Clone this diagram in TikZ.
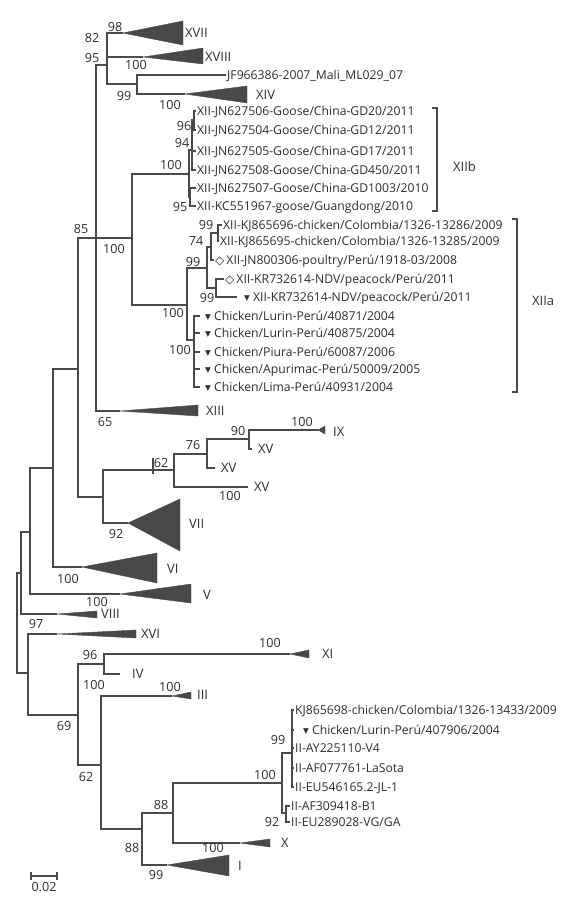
\documentclass[tikz,border=0pt]{standalone}
\usepackage{fontspec}
\setmainfont{Open Sans}
\newfontfamily\symfont{DejaVu Sans}
\usepackage{tikz}
\usetikzlibrary{positioning}
\definecolor{treegray}{HTML}{4A4A4A}
\definecolor{txtgray}{HTML}{2E2E2E}
\definecolor{cladegray}{HTML}{484848}
\newcommand{\tri}{\raisebox{0.6bp}{\fontsize{7.5bp}{7.5bp}\symfont ▼}}
\newcommand{\dia}{\raisebox{-0.5bp}{\fontsize{12bp}{12bp}\symfont ◇}}

\begin{document}
\begin{tikzpicture}[x=1bp, y=-1bp,
    branch/.style={draw=treegray, line width=1.2bp},
    leaf/.style={anchor=west, inner xsep=1bp, inner ysep=0pt, text=txtgray,
        font=\fontsize{12.2bp}{14bp}\selectfont, text height=8.7bp, text depth=0pt},
    romtip/.style={leaf, inner xsep=6bp, font=\fontsize{13bp}{15bp}\selectfont,
        text height=9.3bp},
    boot/.style={inner sep=0pt, text=txtgray, font=\fontsize{12.6bp}{14bp}\selectfont,
        text height=9bp, text depth=0pt},
    clade/.style={fill=cladegray, draw=cladegray, line width=0.4bp, line join=miter},
    cladelab/.style={anchor=west, inner sep=0pt, text=txtgray,
        font=\fontsize{13bp}{15bp}\selectfont, text height=9.3bp, text depth=0pt}]

    \useasboundingbox (0,0) rectangle (580,904);

    % ====== Internal nodes ======
    \coordinate (n17)    at (17,623);
    \coordinate (n21)    at (21,573);
    \coordinate (n30)    at (30,532);
    \coordinate (n53)    at (53,468);
    \coordinate (n78)    at (78,369);
    \coordinate (n85)    at (96,238);
    \coordinate (n95)    at (107,65);
    \coordinate (n99)    at (137,84);
    \coordinate (n100xii) at (132,238);
    \coordinate (n100b)  at (189,174);
    \coordinate (n94)    at (192,150);
    \coordinate (n96)    at (194,120);
    \coordinate (n95b)   at (190,197);
    \coordinate (n100a)  at (187,305);
    \coordinate (n99b)   at (207,268);
    \coordinate (n74)    at (211,247);
    \coordinate (n99c)   at (218,233);
    \coordinate (n99d)   at (216,288);
    \coordinate (n100c)  at (194,340);
    \coordinate (n103)   at (103,497);
    \coordinate (n62)    at (153,470);
    \coordinate (n174)   at (174,470);
    \coordinate (n76)    at (207,454);
    \coordinate (n90)    at (249,439);
    \coordinate (n28)    at (28,673);
    \coordinate (n78b)   at (78,715);
    \coordinate (n96b)   at (104,664);
    \coordinate (n62b)   at (101,765);
    \coordinate (n88a)   at (142,829);
    \coordinate (n88b)   at (173,813);
    \coordinate (n100ii) at (282,783);
    \coordinate (n99ii)  at (292,753);
    \coordinate (n92ii)  at (286,813);

    % ====== Collapsed clades ======
    \coordinate (cXVII)  at (123,33);
    \coordinate (cXVIII) at (143,57);
    \coordinate (cXIV)   at (185,94);
    \coordinate (cXIII)  at (120,411);
    \coordinate (cIX)    at (318,430);
    \coordinate (cVII)   at (128,523);
    \coordinate (cVI)    at (82,567);
    \coordinate (cV)     at (120,594);
    \coordinate (cVIII)  at (57,614);
    \coordinate (cXVI)   at (57,634);
    \coordinate (cXI)    at (290,654);
    \coordinate (cIII)   at (172,696);
    \coordinate (cX)     at (240,843);
    \coordinate (cI)     at (167,865);

    \foreach \c/\dx/\up/\dn in {cXVII/60/12/12, cXVIII/60/9/7, cXIV/62/8/9,
        cXIII/78/6/5, cIX/7/4/4, cVII/52/24/28, cVI/75/14/16, cV/71/10/9,
        cVIII/40/3/4, cXVI/79/4/4, cXI/19/4/4, cIII/19/4/3, cX/30/4/4, cI/62/10/11}
        \fill[clade] (\c) -- ++(\dx,-\up) -- ++(0,\up+\dn) -- cycle;

    \node[cladelab] (lXVII)  at (185,33)  {XVII};
    \node[cladelab] (lXVIII) at (205,57)  {XVIII};
    \node[cladelab] (lXIV)   at (256,95)  {XIV};
    \node[cladelab] (lXIII)  at (206,411) {XIII};
    \node[cladelab] (lIX)    at (333,432) {IX};
    \node[cladelab] (lVII)   at (189,524) {VII};
    \node[cladelab] (lVI)    at (167,569) {VI};
    \node[cladelab] (lV)     at (203,595) {V};
    \node[cladelab] (lVIII)  at (101,614) {VIII};
    \node[cladelab] (lXVI)   at (141,634) {XVI};
    \node[cladelab] (lXI)    at (322,654) {XI};
    \node[cladelab] (lIII)   at (197,695) {III};
    \node[cladelab] (lX)     at (281,843) {X};
    \node[cladelab] (lI)     at (238,866) {I};

    % ====== Leaves ======
    \node[leaf] (jf) at (226,75) {JF966386-2007\_Mali\_ML029\_07};

    \node[leaf] (jn506) at (196,111) {XII-JN627506-Goose/China-GD20/2011};
    \node[leaf] (jn504) at (196,130) {XII-JN627504-Goose/China-GD12/2011};
    \node[leaf] (jn505) at (196,151) {XII-JN627505-Goose/China-GD17/2011};
    \node[leaf] (jn508) at (196,170) {XII-JN627508-Goose/China-GD450/2011};
    \node[leaf] (jn507) at (196,188) {XII-JN627507-Goose/China-GD1003/2010};
    \node[leaf] (kc967) at (196,206) {XII-KC551967-goose/Guangdong/2010};

    \node[leaf] (kj696)  at (222,225) {XII-KJ865696-chicken/Colombia/1326-13286/2009};
    \node[leaf] (kj695)  at (219,241) {XII-KJ865695-chicken/Colombia/1326-13285/2009};
    \node[leaf] (jn800)  at (214,260) {\dia\,XII-JN800306-poultry/Perú/1918-03/2008};
    \node[leaf] (kr614a) at (224,279) {\dia\,XII-KR732614-NDV/peacock/Perú/2011};
    \node[leaf] (kr614b) at (237,297) {\hspace{6bp}\tri\ XII-KR732614-NDV/peacock/Perú/2011};
    \node[leaf] (c1) at (200,316) {\hspace{4bp}\tri\ Chicken/Lurin-Perú/40871/2004};
    \node[leaf] (c2) at (200,333) {\hspace{4bp}\tri\ Chicken/Lurin-Perú/40875/2004};
    \node[leaf] (c3) at (200,352) {\hspace{4bp}\tri\ Chicken/Piura-Perú/60087/2006};
    \node[leaf] (c4) at (200,369) {\hspace{4bp}\tri\ Chicken/Apurimac-Perú/50009/2005};
    \node[leaf] (c5) at (200,387) {\hspace{4bp}\tri\ Chicken/Lima-Perú/40931/2004};

    \node[romtip] (xv1) at (252,449) {XV};
    \node[romtip] (xv2) at (215,468) {XV};
    \node[romtip] (xv3) at (248,487) {XV};
    \node[romtip] (iv)  at (120,674) {\hspace{6bp}IV};

    \node[leaf] (kj698)  at (294,710) {KJ865698-chicken/Colombia/1326-13433/2009};
    \node[leaf] (lurin2) at (294,730) {\hspace{8bp}\tri\ Chicken/Lurin-Perú/407906/2004};
    \node[leaf] (ay)     at (294,748) {II-AY225110-V4};
    \node[leaf] (af077)  at (294,768) {II-AF077761-LaSota};
    \node[leaf] (eu546)  at (294,787) {II-EU546165.2-JL-1};
    \node[leaf] (af309)  at (290,806) {II-AF309418-B1};
    \node[leaf] (eu289)  at (290,822) {II-EU289028-VG/GA};

    % ====== Branches ======
    \foreach \a/\b in {n17/n21, n17/n28, n21/n30, n21/cVIII, n30/n53, n30/cV,
        n53/n78, n53/cVI, n78/n85, n78/n103, n85/n95, n85/n100xii, n85/cXIII,
        n95/cXVII, n95/cXVIII, n95/n99, n99/jf, n99/cXIV,
        n100xii/n100b, n100xii/n100a, n100b/n94, n100b/n95b,
        n94/n96, n94/jn505, n94/jn508, n96/jn506, n96/jn504, n95b/jn507, n95b/kc967,
        n100a/n99b, n100a/n100c, n99b/n74, n99b/n99d, n74/n99c, n74/jn800,
        n99c/kj696, n99c/kj695, n99d/kr614a, n99d/kr614b,
        n100c/c1, n100c/c2, n100c/c3, n100c/c4, n100c/c5,
        n103/n62, n103/cVII, n62/n174, n174/n76, n174/xv3, n76/n90, n76/xv2,
        n90/cIX, n90/xv1,
        n28/cXVI, n28/n78b, n78b/n96b, n78b/n62b, n96b/cXI, n96b/iv,
        n62b/cIII, n62b/n88a, n88a/n88b, n88a/cI, n88b/n100ii, n88b/cX,
        n100ii/n99ii, n100ii/n92ii, n99ii/kj698, n99ii/lurin2, n99ii/ay,
        n99ii/af077, n99ii/eu546, n92ii/af309, n92ii/eu289}
        \path[branch] (\a) |- (\b);
    \path[branch] (n62) ++(0,-12) -- ++(0,16);

    % ====== Bootstrap values ======
    \foreach \x/\y/\v [count=\k] in {115/27/98, 92/38/82, 92/58/95, 136/65/100,
        124/96/99, 170/105/100, 184/126/96, 182/143/94, 171/165/100, 180/207/95,
        81/229/85, 114/249/100, 206/225/99, 196/241/74, 193/262/99, 207/298/99,
        173/313/100, 180/350/100, 105/422/65, 302/422/100, 238/431/90, 193/445/76,
        161/463/62, 230/496/100, 116/534/92, 68/579/100, 97/602/100, 36/624/97,
        90/655/96, 270/643/100, 94/685/100, 170/687/100, 64/726/69, 278/740/99,
        86/777/62, 265/775/100, 161/805/88, 272/822/92, 132/848/88, 213/848/100,
        156/875/99}
        \node[boot] (bs\k) at (\x,\y) {\v};

    % ====== Genotype brackets ======
    \draw[branch] (432,108) -- (437,108) -- (437,211) -- (432,211);
    \node[cladelab] (lXIIb) at (453,167) {XIIb};
    \draw[branch] (512,219) -- (517,219) -- (517,392) -- (512,392);
    \node[cladelab] (lXIIa) at (532,301) {XIIa};

    % ====== Scale ======
    \draw[branch] (31,872) -- (31,880) (31,876) -- (57,876) (57,872) -- (57,880);
    \node[boot] (scale) at (44,887) {0.02};
\end{tikzpicture}
\end{document}
